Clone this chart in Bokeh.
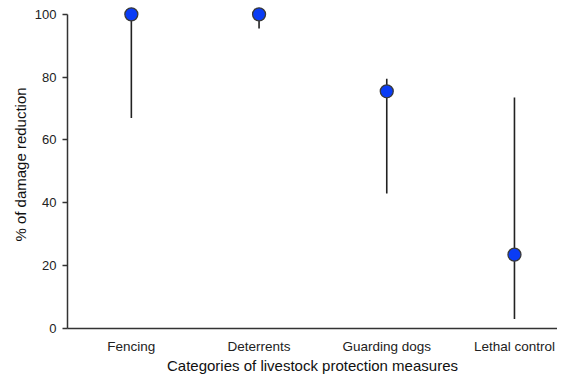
from bokeh.plotting import figure
from bokeh.models import Range1d, FixedTicker, ColumnDataSource
from bokeh.embed import file_html
from bokeh.resources import INLINE

categories = ["Fencing", "Deterrents", "Guarding dogs", "Lethal control"]
median = [100, 100, 75.5, 23.5]
lower = [67, 95.5, 43, 3]
upper = [100, 100, 79.5, 73.5]
y_ticks = [0, 20, 40, 60, 80, 100]

xs = list(range(1, len(categories) + 1))
src = ColumnDataSource(dict(x=xs, m=median, lo=lower, hi=upper))

p = figure(width=557, height=378, output_backend="svg", toolbar_location=None,
           x_range=Range1d(0.5, 4.337), y_range=Range1d(0, 104.4),
           min_border_left=67, min_border_right=0, min_border_top=0, min_border_bottom=50)
p.outline_line_color = None
p.grid.visible = False
p.background_fill_color = "white"
p.border_fill_color = "white"

p.segment(x0="x", x1="x", y0="lo", y1="hi", source=src, line_color="#222222", line_width=1.6)
p.scatter(x="x", y="m", source=src, size=13, fill_color="#0a3cf5", line_color="#3a3a3a", line_width=1.3)

font = "Liberation Sans"
xa = p.xaxis[0]
xa.ticker = FixedTicker(ticks=xs)
xa.major_label_overrides = {x: c for x, c in zip(xs, categories)}
xa.major_tick_out = 0
xa.major_tick_in = 0
xa.minor_tick_out = 0
xa.minor_tick_in = 0
xa.major_label_standoff = 10
xa.axis_label = "Categories of livestock protection measures"
xa.axis_label_standoff = 0

ya = p.yaxis[0]
ya.ticker = FixedTicker(ticks=y_ticks)
ya.bounds = (0, 100)
ya.major_tick_out = 5
ya.major_tick_in = 0
ya.minor_tick_out = 0
ya.minor_tick_in = 0
ya.major_label_standoff = 6
ya.axis_label = "% of damage reduction"
ya.axis_label_standoff = 3

for ax in (xa, ya):
    ax.axis_line_color = "#333333"
    ax.axis_line_width = 1.5
    ax.major_tick_line_color = "#333333"
    ax.major_tick_line_width = 1.5
    ax.major_label_text_font = font
    ax.major_label_text_font_size = "13px"
    ax.major_label_text_color = "#222222"
    ax.axis_label_text_font = font
    ax.axis_label_text_font_size = "15px"
    ax.axis_label_text_font_style = "normal"
    ax.axis_label_text_color = "#111111"

xa.major_label_text_font_size = "13.5px"

open("out.html", "w").write(file_html(p, INLINE))
